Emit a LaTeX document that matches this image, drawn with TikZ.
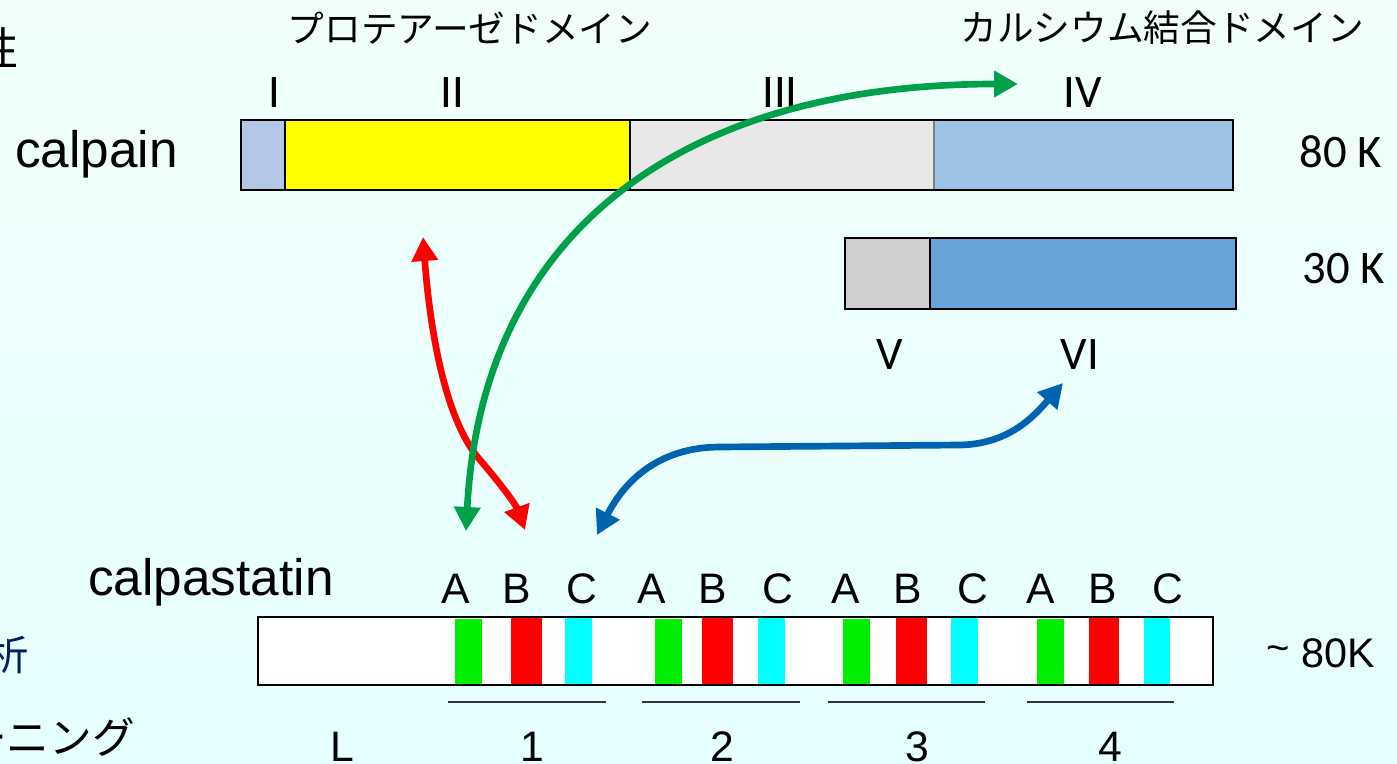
\documentclass[tikz,border=0pt]{standalone}
\usepackage{fontspec}
\setmainfont{Liberation Sans}
\newfontfamily\cjk{Noto Sans CJK JP}
\newfontfamily\calib{Carlito}
\usetikzlibrary{arrows.meta}

\definecolor{bgtop}{HTML}{F0FFFA}
\definecolor{bgbot}{HTML}{E6FFFF}
\definecolor{dI}{HTML}{B4C7E7}
\definecolor{dII}{HTML}{FFFF00}
\definecolor{dIII}{HTML}{E8E8E8}
\definecolor{dIV}{HTML}{9DC3E6}
\definecolor{dV}{HTML}{D0CECE}
\definecolor{dVI}{HTML}{68A4D7}
\definecolor{segA}{HTML}{00EE00}
\definecolor{segB}{HTML}{FF0000}
\definecolor{segC}{HTML}{00FFFF}
\definecolor{arRed}{HTML}{FF0000}
\definecolor{arGreen}{HTML}{00A04A}
\definecolor{arBlue}{HTML}{0063B0}
\definecolor{jpblue}{HTML}{002060}

\tikzset{
  box/.style={draw=black, line width=1.5pt},
  jp/.style={font=\cjk\fontsize{27.5pt}{30pt}\selectfont, inner sep=0pt},
  roman/.style={font=\calib\fontsize{35pt}{40pt}\selectfont, inner sep=0pt, anchor=base},
  sans/.style={font=\fontsize{32pt}{36pt}\selectfont, inner sep=0pt, anchor=base},
  big/.style={font=\fontsize{38.5pt}{42pt}\selectfont, inner sep=0pt, anchor=base west},
  link/.style={line width=5pt, {Triangle[length=18pt,width=19pt]}-{Triangle[length=18pt,width=19pt]}},
  rule/.style={draw=black!80, line width=1.5pt},
}

\begin{document}
\begin{tikzpicture}[x=0.75pt,y=-0.75pt]
\useasboundingbox (0,0) rectangle (1397,764);
\shade[top color=bgtop, bottom color=bgbot] (0,0) rectangle (1397,764);

% text running in from the left margin
\begin{scope}
  \clip (0,0) rectangle (1397,764);
  \node[jp, anchor=east, font=\cjk\fontsize{34pt}{36pt}\selectfont] (edgeA) at (19,48) {性};
  \node[jp, anchor=east, text=jpblue, font=\cjk\fontsize{31pt}{34pt}\selectfont] (edgeB) at (29,655) {析};
  \node[jp, anchor=east, font=\cjk\fontsize{32pt}{34pt}\selectfont] (edgeC) at (135,737) {ーニング};
\end{scope}

% domain headings
\node[jp] (protease) at (470,28) {プロテアーゼドメイン};
\node[jp] (cabind) at (1162,28) {カルシウム結合ドメイン};

% large subunit (80 K)
\fill[dI]   (241,120) rectangle (285,190);
\fill[dII]  (285,120) rectangle (630,190);
\fill[dIII] (630,120) rectangle (934,190);
\fill[dIV]  (934,120) rectangle (1233,190);
\draw[box] (285,120) -- (285,190) (630,120) -- (630,190);
\draw[draw=gray, line width=1.2pt] (934,120) -- (934,190);
\draw[box] (241,120) rectangle (1233,190);

\node[roman] (dom1) at (274,107) {I};
\node[roman] (dom2) at (452,107) {II};
\node[roman] (dom3) at (780,107) {III};
\node[roman] (dom4) at (1083,107) {IV};
\node[big] (calpain) at (15,167) {calpain};
\node[roman] (mw80) at (1341,167) {80 K};

% small subunit (30 K)
\fill[dV]  (845,238) rectangle (930,309);
\fill[dVI] (930,238) rectangle (1236,309);
\draw[box] (930,238) -- (930,309);
\draw[box] (845,238) rectangle (1236,309);
\node[roman] (dom5) at (890,369) {V};
\node[roman] (dom6) at (1080,369) {VI};
\node[roman] (mw30) at (1344,283) {30 K};

% calpastatin
\fill[white] (258,617) rectangle (1213,685);
\foreach \ga/\gb/\ra/\rb/\ca/\cb in {455/482/511/542/565/592, 655/682/702/733/758/785,
                                      843/870/896/927/951/978, 1037/1064/1089/1119/1144/1170}{
  \fill[segA] (\ga,619) rectangle (\gb,685);
  \fill[segB] (\ra,617) rectangle (\rb,685);
  \fill[segC] (\ca,617) rectangle (\cb,685);
}
\draw[box] (258,617) rectangle (1213,685);

\node[big] (calpastatin) at (88,595) {calpastatin};
\foreach \xa/\xb/\xc/\k in {456/517/582/1, 652/713/778/2, 846/908/973/3, 1041/1103/1168/4}{
  \node[sans] (A\k) at (\xa,603) {A};
  \node[sans] (B\k) at (\xb,603) {B};
  \node[sans] (C\k) at (\xc,603) {C};
}
\node[sans, anchor=base west, font=\fontsize{31pt}{34pt}\selectfont] (mwstat) at (1266,667)
  {{\fontsize{30pt}{32pt}\selectfont\raisebox{4pt}{\textasciitilde}}\hspace{9pt}80K};

\draw[rule] (448,702) -- (606,702);
\draw[rule] (642,702) -- (800,702);
\draw[rule] (828,702) -- (985,702);
\draw[rule] (1027,702) -- (1174,702);

\node[sans] (regL) at (342,761) {L};
\node[sans] (reg1) at (532,761) {1};
\node[sans] (reg2) at (722,761) {2};
\node[sans] (reg3) at (917,761) {3};
\node[sans] (reg4) at (1110,761) {4};

% interaction arrows
\coordinate (redTop) at (423,237);
\coordinate (redBot) at (525,530);
\coordinate (greenBot) at (466,531);
\coordinate (greenTop) at (1018,84);
\coordinate (blueBot) at (597,535);
\coordinate (blueTop) at (1063,383);

\draw[link, arRed] (redTop) .. controls (430,330) and (445,420) .. (480,460)
      .. controls (500,483) and (516,505) .. (redBot);
\draw[link, arGreen] (greenBot) .. controls (482,225) and (690,84) .. (greenTop);
\draw[link, arBlue] (blueBot) .. controls (625,480) and (660,447) .. (720,447)
      -- (960,445) .. controls (1010,444) and (1035,415) .. (blueTop);
\end{tikzpicture}
\end{document}
